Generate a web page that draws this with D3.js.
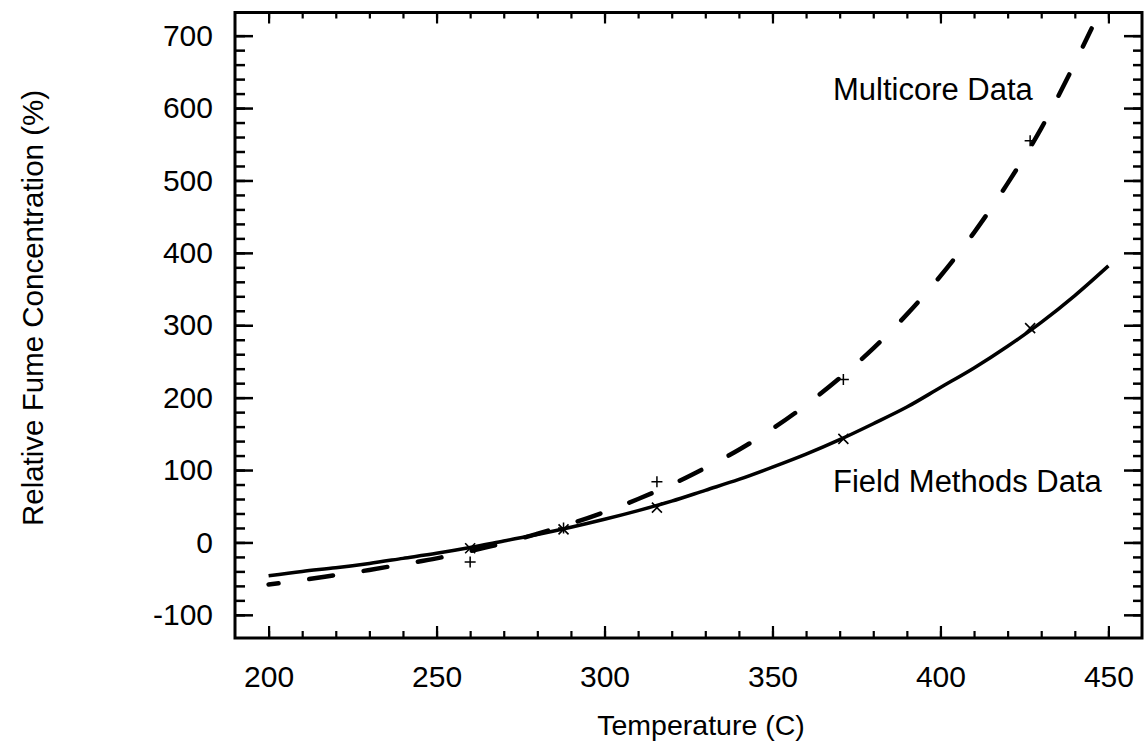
<!DOCTYPE html>
<html>
<head>
<meta charset="utf-8">
<script src="https://cdn.jsdelivr.net/npm/d3@7"></script>
<style>
  html, body { margin: 0; padding: 0; background: #fff; }
  svg { display: block; }
  text { font-family: "Liberation Sans", Arial, Helvetica, sans-serif; fill: #000; }
</style>
</head>
<body>
<svg id="chart" width="1145" height="747"></svg>
<script>
// ---- data ----
const fieldTemp = [200,210,220,230,240,250,260,270,280,290,300,310,320,330,340,350,360,370,380,390,400,410,420,430,440,450];
const fieldValues = [-46,-40,-35,-29,-22,-15,-7,2,11,21,32,44,57,72,87,104,122,142,164,187,214,241,271,304,341,382];

const multicoreTemp = [200,210,220,230,240,250,260,270,280,290,300,310,320,330,340,350,360,370,380,390,400,410,420,430,440,445];
const multicoreValues = [-58,-52,-45,-38,-30,-22,-12,-1,12,26,42,60,80,103,128,157,190,227,268,315,368,428,496,572,662,710];

const pointTemp = [260, 287.8, 315.6, 371.1, 426.7];
const fieldPoints = [-8, 18, 48, 143, 296];
const multicorePoints = [-27, 20, 84, 225, 555];

const xMajorTicks = [200,250,300,350,400,450];
const xMinorTicks = d3.range(200, 451, 10);
const yMajorTicks = [-100,0,100,200,300,400,500,600,700];
const yMinorTicks = d3.range(-100, 701, 20);

const xTitle = "Temperature (C)";
const yTitle = "Relative Fume Concentration (%)";
const labelMulticore = "Multicore Data";
const labelField = "Field Methods Data";

// ---- layout ----
const svg = d3.select("#chart");
const L = 235, R = 1142, T = 12.5, B = 638;
const x = d3.scaleLinear().domain([190, 460]).range([L, R]);
const y = d3.scaleLinear().domain([-132, 732]).range([B, T]);

const fontSize = 30;

// clip
svg.append("defs").append("clipPath").attr("id", "clip")
  .append("rect").attr("x", L).attr("y", T).attr("width", R - L).attr("height", B - T);

function styleAxis(g, w) {
  g.select(".domain").remove();
  g.selectAll(".tick line").attr("stroke", "#000").attr("stroke-width", w);
  g.selectAll("text").style("font-size", fontSize + "px")
    .style("font-family", '"Liberation Sans", Arial, sans-serif').attr("fill", "#000");
}
const fmt = d => String(d);

// left axis
svg.append("g").attr("transform", `translate(${L},0)`)
  .call(d3.axisLeft(y).tickValues(yMinorTicks).tickSize(-10).tickFormat(""))
  .call(g => styleAxis(g, 2.5));
svg.append("g").attr("transform", `translate(${L},0)`)
  .call(d3.axisLeft(y).tickValues(yMajorTicks).tickSize(-18).tickPadding(22).tickFormat(fmt))
  .call(g => styleAxis(g, 2.5));

// right axis
svg.append("g").attr("transform", `translate(${R},0)`)
  .call(d3.axisRight(y).tickValues(yMinorTicks).tickSize(-9).tickFormat(""))
  .call(g => styleAxis(g, 2.5));
svg.append("g").attr("transform", `translate(${R},0)`)
  .call(d3.axisRight(y).tickValues(yMajorTicks).tickSize(-18).tickFormat(""))
  .call(g => styleAxis(g, 2.5));

// bottom axis
svg.append("g").attr("transform", `translate(0,${B})`)
  .call(d3.axisBottom(x).tickValues(xMinorTicks).tickSize(-7).tickFormat(""))
  .call(g => styleAxis(g, 2.2));
svg.append("g").attr("transform", `translate(0,${B})`)
  .call(d3.axisBottom(x).tickValues(xMajorTicks).tickSize(-12).tickPadding(28).tickFormat(fmt))
  .call(g => styleAxis(g, 2.2));

// top axis
svg.append("g").attr("transform", `translate(0,${T})`)
  .call(d3.axisTop(x).tickValues(xMinorTicks).tickSize(-6).tickFormat(""))
  .call(g => styleAxis(g, 2.2));
svg.append("g").attr("transform", `translate(0,${T})`)
  .call(d3.axisTop(x).tickValues(xMajorTicks).tickSize(-11).tickFormat(""))
  .call(g => styleAxis(g, 2.2));

// frame
svg.append("rect").attr("x", L).attr("y", T).attr("width", R - L).attr("height", B - T)
  .attr("fill", "none").attr("stroke", "#000").attr("stroke-width", 3);

// lines
const plot = svg.append("g").attr("clip-path", "url(#clip)");
const line = d3.line().x(d => x(d[0])).y(d => y(d[1])).curve(d3.curveMonotoneX);

plot.append("path")
  .datum(fieldTemp.map((t, i) => [t, fieldValues[i]]))
  .attr("d", line).attr("fill", "none").attr("stroke", "#000")
  .attr("stroke-width", 3.5).attr("stroke-linejoin", "round");

plot.append("path")
  .datum(multicoreTemp.map((t, i) => [t, multicoreValues[i]]))
  .attr("d", line).attr("fill", "none").attr("stroke", "#000")
  .attr("stroke-width", 4.5).attr("stroke-linecap", "round")
  .attr("stroke-dasharray", "24,31").attr("stroke-dashoffset", 14);

// markers
const s = 5;
plot.selectAll(".xmark").data(pointTemp.map((t, i) => [t, fieldPoints[i]])).join("path")
  .attr("transform", d => `translate(${x(d[0])},${y(d[1])})`)
  .attr("d", `M${-s},${-s}L${s},${s}M${-s},${s}L${s},${-s}`)
  .attr("stroke", "#000").attr("stroke-width", 1.6).attr("fill", "none");

const p = 5.5;
plot.selectAll(".pmark").data(pointTemp.map((t, i) => [t, multicorePoints[i]])).join("path")
  .attr("transform", d => `translate(${x(d[0])},${y(d[1])})`)
  .attr("d", `M${-p},0L${p},0M0,${-p}L0,${p}`)
  .attr("stroke", "#000").attr("stroke-width", 1.5).attr("fill", "none");

// annotations
svg.append("text").attr("x", 833).attr("y", 100).style("font-size", "31px").text(labelMulticore);
svg.append("text").attr("x", 833).attr("y", 492).style("font-size", "31px").text(labelField);

// titles
svg.append("text").attr("x", 701).attr("y", 735)
  .attr("text-anchor", "middle").style("font-size", "28.5px").text(xTitle);
svg.append("text").attr("transform", `translate(43,308) rotate(-90)`)
  .attr("text-anchor", "middle").style("font-size", "29.5px").text(yTitle);
</script>
</body>
</html>
